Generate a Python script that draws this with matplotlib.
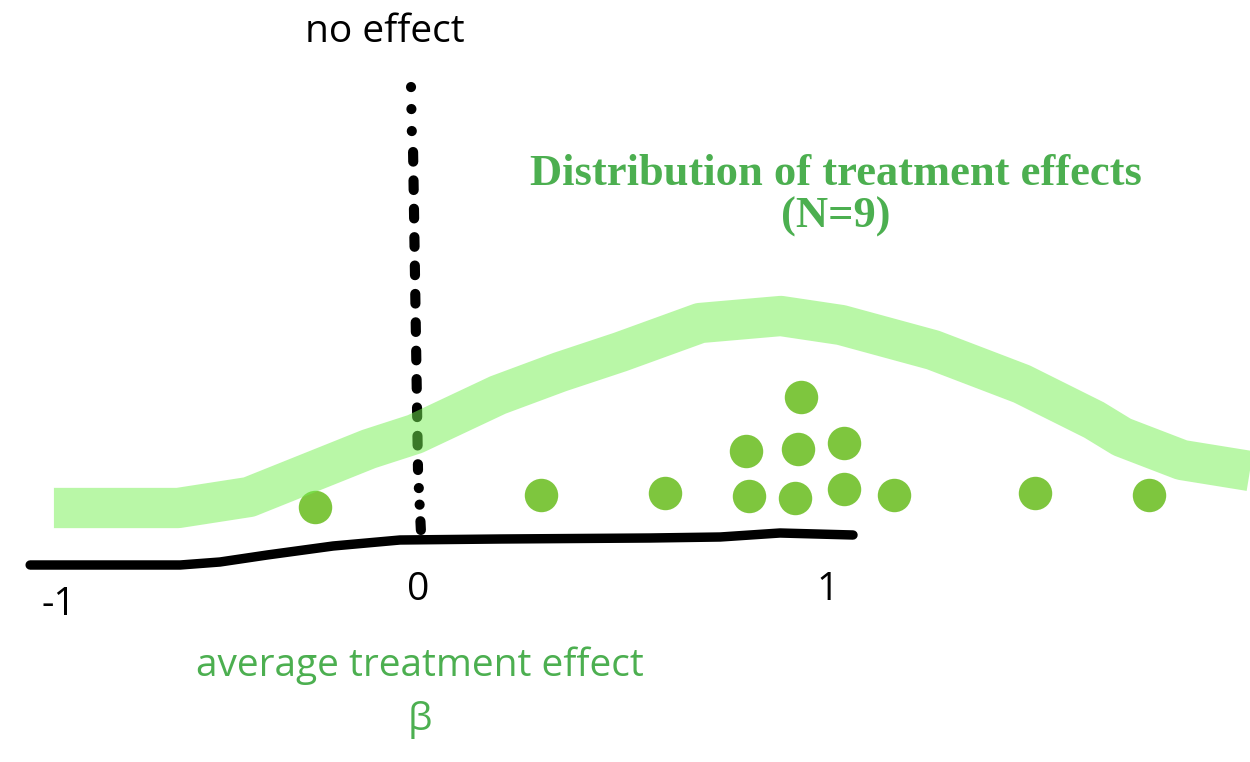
import numpy as np
import matplotlib.pyplot as plt

# ===================== data =====================
# x in effect units (0 at "no effect", 1 at the "1" tick), y = height in px from the bottom
dot_x = [-0.251, 0.301, 0.602, 0.807, 0.920, 1.040, 1.161, 1.504, 1.783,
         0.801, 0.927, 1.040, 0.935]
dot_y = [255, 267, 269, 266, 264, 273, 267, 269, 267,
         311, 313, 319, 365]

# hand-drawn "distribution" band (centre line)
curve_x = [-0.888, -0.585, -0.412, -0.120, -0.007, 0.195, 0.346, 0.493, 0.688,
           0.885, 1.032, 1.256, 1.473, 1.649, 1.717, 1.863, 2.029]
curve_y = [254, 254, 265, 313, 328, 367, 390, 410, 439,
           446, 437, 412, 378, 342, 325, 302, 291]

# hand-drawn axis line
base_x = [-0.946, -0.580, -0.483, -0.368, -0.207, -0.044, 0.2, 0.566, 0.737, 0.883, 1.061]
base_y = [197, 197, 200, 207, 216, 222, 223, 224, 225, 229, 227]

# "no effect" line, three pieces with different strokes
ne_dots_x, ne_dots_y = [-0.017, -0.015], [675, 628]
ne_dash_x, ne_dash_y = [-0.012, 0.0], [610, 292]
ne_end_x, ne_end_y = [0.002, 0.007], [274, 232]

tick_labels = ['-1', '0', '1']
tick_x = [-0.875, 0.0, 1.0]
tick_y = [157, 172, 172]

GREEN_TEXT = '#4CAF50'
GREEN_DOT = '#7EC63E'
GREEN_BAND = '#74F050'

fig = plt.figure(figsize=(12.5, 7.62), dpi=100)
ax = fig.add_axes([0, 0, 1, 1])
ax.set_xlim(-418 / 410, (1250 - 418) / 410)
ax.set_ylim(0, 762)
ax.axis('off')

# baseline
ax.plot(base_x, base_y, color='black', lw=6.8, solid_capstyle='round',
        solid_joinstyle='round', zorder=2)

# no effect line
LW = 7.3
ax.plot(ne_dots_x, ne_dots_y, color='black', lw=LW,
        linestyle=(0, (0.01, 2.16)), dash_capstyle='round', zorder=2)
ax.plot(ne_dash_x, ne_dash_y, color='black', lw=LW,
        linestyle=(0, (0.95, 1.85)), dash_capstyle='round', zorder=2)
ax.plot(ne_end_x, ne_end_y, color='black', lw=LW,
        linestyle=(0, (0.01, 1.63, 0.01, 1.63, 0.9, 10)), dash_capstyle='round', zorder=2)

# individual effects
ax.scatter(dot_x, dot_y, s=580, color=GREEN_DOT, linewidths=0, zorder=3)

# thick translucent band on top
ax.plot(curve_x, curve_y, color=GREEN_BAND, alpha=0.5, lw=29, solid_capstyle='butt',
        solid_joinstyle='round', zorder=4)

# texts
for x, y, lab in zip(tick_x, tick_y, tick_labels):
    ax.text(x, y, lab, ha='center', va='center', fontsize=28, family='Open Sans')

ax.text(-0.081, 730, 'no effect', ha='center', va='center', fontsize=28,
        family='Open Sans')
ax.text(1.02, 588, 'Distribution of treatment effects', ha='center', va='center',
        fontsize=32, fontweight='bold', family='Liberation Serif', color=GREEN_TEXT)
ax.text(1.02, 545, '(N=9)', ha='center', va='center',
        fontsize=32, fontweight='bold', family='Liberation Serif', color=GREEN_TEXT)
ax.text(0.005, 96, 'average treatment effect', ha='center', va='center', fontsize=28,
        family='Open Sans', color=GREEN_TEXT)
ax.text(0.005, 42, 'β', ha='center', va='center', fontsize=28,
        family='Open Sans', color=GREEN_TEXT)

fig.savefig('out.png', dpi=100)
